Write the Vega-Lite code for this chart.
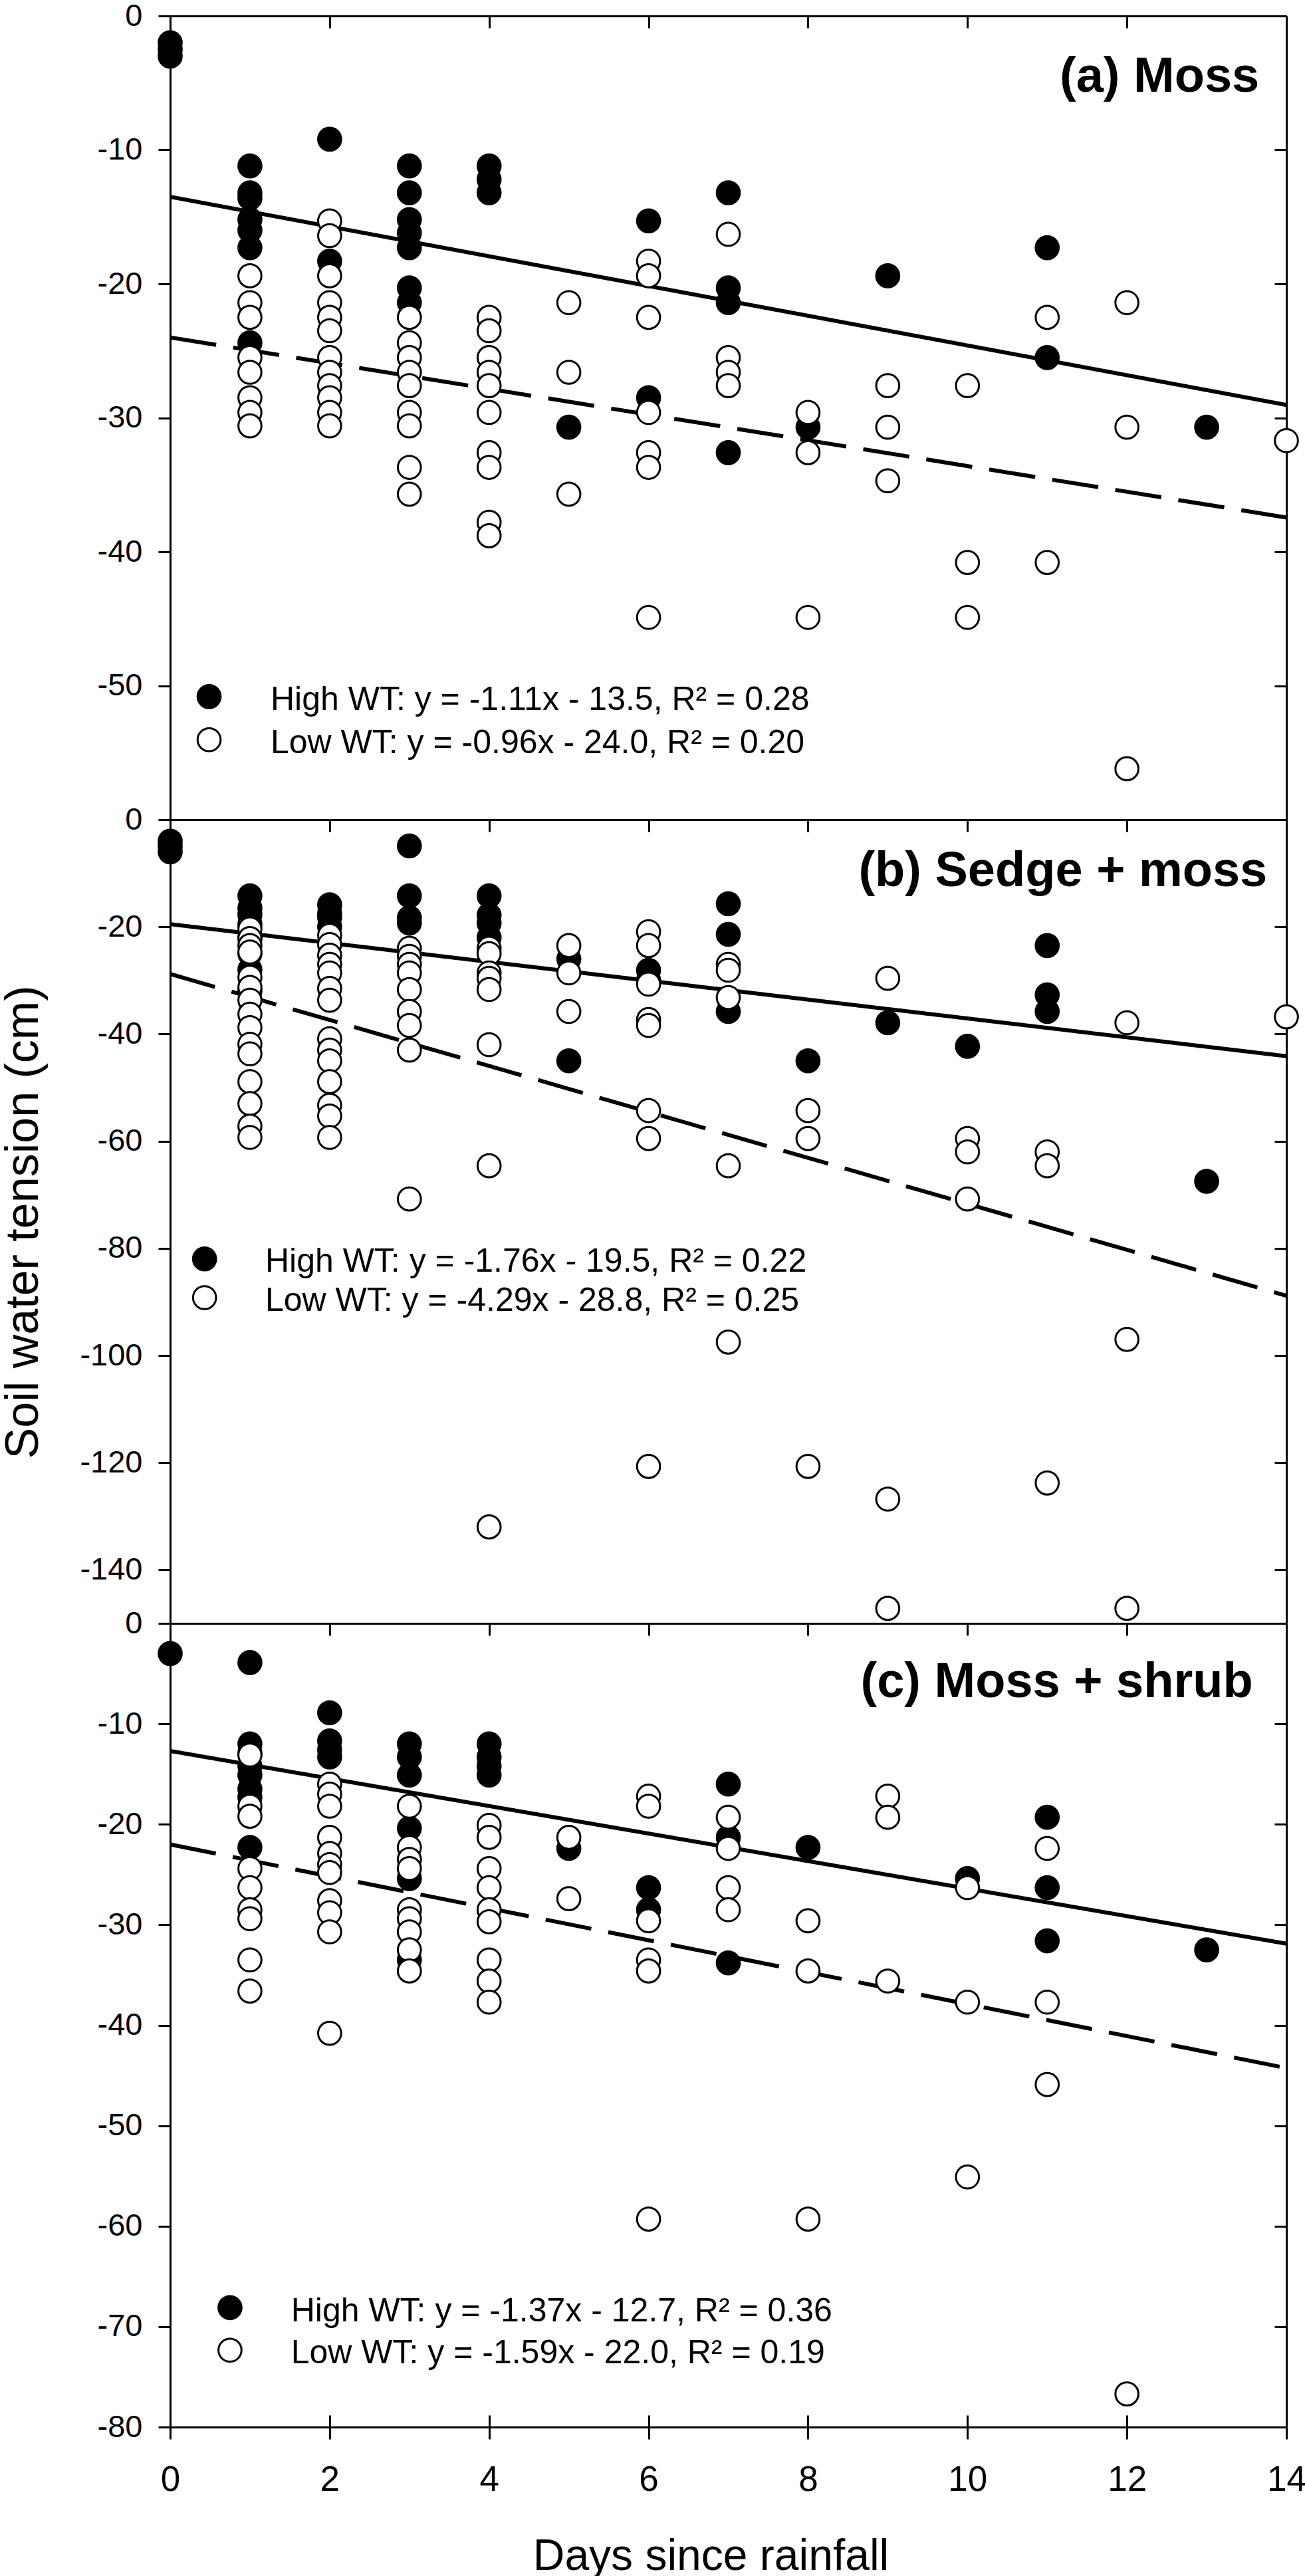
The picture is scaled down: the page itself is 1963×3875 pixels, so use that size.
{
  "$schema": "https://vega.github.io/schema/vega-lite/v6.json",
  "padding": {"left": 0, "top": 0, "right": 10, "bottom": 0},
  "background": "white",
  "config": {
    "view": {"stroke": null},
    "font": "Liberation Sans",
    "axis": {"domainColor": "black", "domainWidth": 3, "tickColor": "black", "tickWidth": 3, "labelColor": "black", "titleColor": "black", "grid": false, "labelFont": "Liberation Sans", "titleFont": "Liberation Sans", "titleFontWeight": "normal", "labelFlush": false, "labelOverlap": false},
    "text": {"font": "Liberation Sans", "color": "black"}
  },
  "datasets": {
    "points": [
      {"panel":"a","wt":"High WT","day":0,"swt":-2},{"panel":"a","wt":"High WT","day":0,"swt":-2.5},{"panel":"a","wt":"High WT","day":0,"swt":-3},
      {"panel":"a","wt":"High WT","day":1,"swt":-11.2},{"panel":"a","wt":"High WT","day":1,"swt":-13.2},{"panel":"a","wt":"High WT","day":1,"swt":-13.6},{"panel":"a","wt":"High WT","day":1,"swt":-15.2},{"panel":"a","wt":"High WT","day":1,"swt":-16},{"panel":"a","wt":"High WT","day":1,"swt":-17.3},{"panel":"a","wt":"High WT","day":1,"swt":-24.4},
      {"panel":"a","wt":"High WT","day":2,"swt":-9.2},{"panel":"a","wt":"High WT","day":2,"swt":-18.3},
      {"panel":"a","wt":"High WT","day":3,"swt":-11.2},{"panel":"a","wt":"High WT","day":3,"swt":-13.2},{"panel":"a","wt":"High WT","day":3,"swt":-15.2},{"panel":"a","wt":"High WT","day":3,"swt":-16.2},{"panel":"a","wt":"High WT","day":3,"swt":-17.3},{"panel":"a","wt":"High WT","day":3,"swt":-20.3},{"panel":"a","wt":"High WT","day":3,"swt":-21.4},
      {"panel":"a","wt":"High WT","day":4,"swt":-11.2},{"panel":"a","wt":"High WT","day":4,"swt":-12.2},{"panel":"a","wt":"High WT","day":4,"swt":-13.2},
      {"panel":"a","wt":"High WT","day":5,"swt":-30.7},
      {"panel":"a","wt":"High WT","day":6,"swt":-15.3},{"panel":"a","wt":"High WT","day":6,"swt":-28.5},
      {"panel":"a","wt":"High WT","day":7,"swt":-13.2},{"panel":"a","wt":"High WT","day":7,"swt":-20.3},{"panel":"a","wt":"High WT","day":7,"swt":-21.4},{"panel":"a","wt":"High WT","day":7,"swt":-32.6},
      {"panel":"a","wt":"High WT","day":8,"swt":-30.7},
      {"panel":"a","wt":"High WT","day":9,"swt":-19.4},
      {"panel":"a","wt":"High WT","day":11,"swt":-17.3},{"panel":"a","wt":"High WT","day":11,"swt":-25.5},
      {"panel":"a","wt":"High WT","day":13,"swt":-30.7},
      {"panel":"a","wt":"Low WT","day":1,"swt":-19.4},{"panel":"a","wt":"Low WT","day":1,"swt":-21.4},{"panel":"a","wt":"Low WT","day":1,"swt":-22.5},{"panel":"a","wt":"Low WT","day":1,"swt":-25.5},{"panel":"a","wt":"Low WT","day":1,"swt":-26.6},{"panel":"a","wt":"Low WT","day":1,"swt":-28.5},{"panel":"a","wt":"Low WT","day":1,"swt":-29.6},{"panel":"a","wt":"Low WT","day":1,"swt":-30.6},
      {"panel":"a","wt":"Low WT","day":2,"swt":-15.3},{"panel":"a","wt":"Low WT","day":2,"swt":-16.4},{"panel":"a","wt":"Low WT","day":2,"swt":-19.4},{"panel":"a","wt":"Low WT","day":2,"swt":-21.4},{"panel":"a","wt":"Low WT","day":2,"swt":-22.5},{"panel":"a","wt":"Low WT","day":2,"swt":-23.5},{"panel":"a","wt":"Low WT","day":2,"swt":-25.5},{"panel":"a","wt":"Low WT","day":2,"swt":-26.6},{"panel":"a","wt":"Low WT","day":2,"swt":-27.6},{"panel":"a","wt":"Low WT","day":2,"swt":-28.5},{"panel":"a","wt":"Low WT","day":2,"swt":-29.6},{"panel":"a","wt":"Low WT","day":2,"swt":-30.6},
      {"panel":"a","wt":"Low WT","day":3,"swt":-22.5},{"panel":"a","wt":"Low WT","day":3,"swt":-24.4},{"panel":"a","wt":"Low WT","day":3,"swt":-25.5},{"panel":"a","wt":"Low WT","day":3,"swt":-26.6},{"panel":"a","wt":"Low WT","day":3,"swt":-27.6},{"panel":"a","wt":"Low WT","day":3,"swt":-29.6},{"panel":"a","wt":"Low WT","day":3,"swt":-30.6},{"panel":"a","wt":"Low WT","day":3,"swt":-33.7},{"panel":"a","wt":"Low WT","day":3,"swt":-35.7},
      {"panel":"a","wt":"Low WT","day":4,"swt":-22.5},{"panel":"a","wt":"Low WT","day":4,"swt":-23.5},{"panel":"a","wt":"Low WT","day":4,"swt":-25.5},{"panel":"a","wt":"Low WT","day":4,"swt":-26.6},{"panel":"a","wt":"Low WT","day":4,"swt":-27.6},{"panel":"a","wt":"Low WT","day":4,"swt":-29.6},{"panel":"a","wt":"Low WT","day":4,"swt":-32.6},{"panel":"a","wt":"Low WT","day":4,"swt":-33.7},{"panel":"a","wt":"Low WT","day":4,"swt":-37.8},{"panel":"a","wt":"Low WT","day":4,"swt":-38.8},
      {"panel":"a","wt":"Low WT","day":5,"swt":-21.4},{"panel":"a","wt":"Low WT","day":5,"swt":-26.6},{"panel":"a","wt":"Low WT","day":5,"swt":-35.7},
      {"panel":"a","wt":"Low WT","day":6,"swt":-18.3},{"panel":"a","wt":"Low WT","day":6,"swt":-19.4},{"panel":"a","wt":"Low WT","day":6,"swt":-22.5},{"panel":"a","wt":"Low WT","day":6,"swt":-29.6},{"panel":"a","wt":"Low WT","day":6,"swt":-32.6},{"panel":"a","wt":"Low WT","day":6,"swt":-33.7},{"panel":"a","wt":"Low WT","day":6,"swt":-44.9},
      {"panel":"a","wt":"Low WT","day":7,"swt":-16.3},{"panel":"a","wt":"Low WT","day":7,"swt":-25.5},{"panel":"a","wt":"Low WT","day":7,"swt":-26.6},{"panel":"a","wt":"Low WT","day":7,"swt":-27.6},
      {"panel":"a","wt":"Low WT","day":8,"swt":-29.6},{"panel":"a","wt":"Low WT","day":8,"swt":-32.6},{"panel":"a","wt":"Low WT","day":8,"swt":-44.9},
      {"panel":"a","wt":"Low WT","day":9,"swt":-27.6},{"panel":"a","wt":"Low WT","day":9,"swt":-30.7},{"panel":"a","wt":"Low WT","day":9,"swt":-34.7},
      {"panel":"a","wt":"Low WT","day":10,"swt":-27.6},{"panel":"a","wt":"Low WT","day":10,"swt":-40.8},{"panel":"a","wt":"Low WT","day":10,"swt":-44.9},
      {"panel":"a","wt":"Low WT","day":11,"swt":-22.5},{"panel":"a","wt":"Low WT","day":11,"swt":-40.8},
      {"panel":"a","wt":"Low WT","day":12,"swt":-21.4},{"panel":"a","wt":"Low WT","day":12,"swt":-30.7},{"panel":"a","wt":"Low WT","day":12,"swt":-56.2},
      {"panel":"a","wt":"Low WT","day":14,"swt":-31.7},

      {"panel":"b","wt":"High WT","day":0,"swt":-4},{"panel":"b","wt":"High WT","day":0,"swt":-5},{"panel":"b","wt":"High WT","day":0,"swt":-6},
      {"panel":"b","wt":"High WT","day":1,"swt":-14.2},{"panel":"b","wt":"High WT","day":1,"swt":-16.5},{"panel":"b","wt":"High WT","day":1,"swt":-17.7},{"panel":"b","wt":"High WT","day":1,"swt":-19.5},{"panel":"b","wt":"High WT","day":1,"swt":-22},{"panel":"b","wt":"High WT","day":1,"swt":-25},{"panel":"b","wt":"High WT","day":1,"swt":-28},{"panel":"b","wt":"High WT","day":1,"swt":-32},
      {"panel":"b","wt":"High WT","day":2,"swt":-15.9},{"panel":"b","wt":"High WT","day":2,"swt":-17.5},{"panel":"b","wt":"High WT","day":2,"swt":-18.2},{"panel":"b","wt":"High WT","day":2,"swt":-20},
      {"panel":"b","wt":"High WT","day":3,"swt":-4.9},{"panel":"b","wt":"High WT","day":3,"swt":-14.2},{"panel":"b","wt":"High WT","day":3,"swt":-18.3},{"panel":"b","wt":"High WT","day":3,"swt":-19.3},
      {"panel":"b","wt":"High WT","day":4,"swt":-14.2},{"panel":"b","wt":"High WT","day":4,"swt":-17.8},{"panel":"b","wt":"High WT","day":4,"swt":-19.3},{"panel":"b","wt":"High WT","day":4,"swt":-22},
      {"panel":"b","wt":"High WT","day":5,"swt":-26},{"panel":"b","wt":"High WT","day":5,"swt":-45},
      {"panel":"b","wt":"High WT","day":6,"swt":-28.1},{"panel":"b","wt":"High WT","day":6,"swt":-30},
      {"panel":"b","wt":"High WT","day":7,"swt":-15.7},{"panel":"b","wt":"High WT","day":7,"swt":-21.4},{"panel":"b","wt":"High WT","day":7,"swt":-35.8},
      {"panel":"b","wt":"High WT","day":8,"swt":-45},
      {"panel":"b","wt":"High WT","day":9,"swt":-37.9},
      {"panel":"b","wt":"High WT","day":10,"swt":-42.3},
      {"panel":"b","wt":"High WT","day":11,"swt":-23.5},{"panel":"b","wt":"High WT","day":11,"swt":-32.7},{"panel":"b","wt":"High WT","day":11,"swt":-35.8},
      {"panel":"b","wt":"High WT","day":13,"swt":-67.5},
      {"panel":"b","wt":"Low WT","day":1,"swt":-20.4},{"panel":"b","wt":"Low WT","day":1,"swt":-22.2},{"panel":"b","wt":"Low WT","day":1,"swt":-23.5},{"panel":"b","wt":"Low WT","day":1,"swt":-24.7},{"panel":"b","wt":"Low WT","day":1,"swt":-29.4},{"panel":"b","wt":"Low WT","day":1,"swt":-31.3},{"panel":"b","wt":"Low WT","day":1,"swt":-33.7},{"panel":"b","wt":"Low WT","day":1,"swt":-36.3},{"panel":"b","wt":"Low WT","day":1,"swt":-38.8},{"panel":"b","wt":"Low WT","day":1,"swt":-41.9},{"panel":"b","wt":"Low WT","day":1,"swt":-43.7},{"panel":"b","wt":"Low WT","day":1,"swt":-48.9},{"panel":"b","wt":"Low WT","day":1,"swt":-53},{"panel":"b","wt":"Low WT","day":1,"swt":-57.2},{"panel":"b","wt":"Low WT","day":1,"swt":-59.3},
      {"panel":"b","wt":"Low WT","day":2,"swt":-21.6},{"panel":"b","wt":"Low WT","day":2,"swt":-23.3},{"panel":"b","wt":"Low WT","day":2,"swt":-25.3},{"panel":"b","wt":"Low WT","day":2,"swt":-27},{"panel":"b","wt":"Low WT","day":2,"swt":-28.6},{"panel":"b","wt":"Low WT","day":2,"swt":-31.5},{"panel":"b","wt":"Low WT","day":2,"swt":-33.7},{"panel":"b","wt":"Low WT","day":2,"swt":-40.9},{"panel":"b","wt":"Low WT","day":2,"swt":-43},{"panel":"b","wt":"Low WT","day":2,"swt":-45},{"panel":"b","wt":"Low WT","day":2,"swt":-48.9},{"panel":"b","wt":"Low WT","day":2,"swt":-53.3},{"panel":"b","wt":"Low WT","day":2,"swt":-55.3},{"panel":"b","wt":"Low WT","day":2,"swt":-59.3},
      {"panel":"b","wt":"Low WT","day":3,"swt":-24},{"panel":"b","wt":"Low WT","day":3,"swt":-25.5},{"panel":"b","wt":"Low WT","day":3,"swt":-27},{"panel":"b","wt":"Low WT","day":3,"swt":-28.6},{"panel":"b","wt":"Low WT","day":3,"swt":-31.7},{"panel":"b","wt":"Low WT","day":3,"swt":-35.8},{"panel":"b","wt":"Low WT","day":3,"swt":-38.4},{"panel":"b","wt":"Low WT","day":3,"swt":-43},{"panel":"b","wt":"Low WT","day":3,"swt":-70.8},
      {"panel":"b","wt":"Low WT","day":4,"swt":-24},{"panel":"b","wt":"Low WT","day":4,"swt":-25},{"panel":"b","wt":"Low WT","day":4,"swt":-28.6},{"panel":"b","wt":"Low WT","day":4,"swt":-29.6},{"panel":"b","wt":"Low WT","day":4,"swt":-31.7},{"panel":"b","wt":"Low WT","day":4,"swt":-42},{"panel":"b","wt":"Low WT","day":4,"swt":-64.6},{"panel":"b","wt":"Low WT","day":4,"swt":-132},
      {"panel":"b","wt":"Low WT","day":5,"swt":-23.5},{"panel":"b","wt":"Low WT","day":5,"swt":-28.6},{"panel":"b","wt":"Low WT","day":5,"swt":-35.8},
      {"panel":"b","wt":"Low WT","day":6,"swt":-20.9},{"panel":"b","wt":"Low WT","day":6,"swt":-23.5},{"panel":"b","wt":"Low WT","day":6,"swt":-30.7},{"panel":"b","wt":"Low WT","day":6,"swt":-37.3},{"panel":"b","wt":"Low WT","day":6,"swt":-38.4},{"panel":"b","wt":"Low WT","day":6,"swt":-54.3},{"panel":"b","wt":"Low WT","day":6,"swt":-59.5},{"panel":"b","wt":"Low WT","day":6,"swt":-120.7},
      {"panel":"b","wt":"Low WT","day":7,"swt":-27},{"panel":"b","wt":"Low WT","day":7,"swt":-28.1},{"panel":"b","wt":"Low WT","day":7,"swt":-33.2},{"panel":"b","wt":"Low WT","day":7,"swt":-64.6},{"panel":"b","wt":"Low WT","day":7,"swt":-97.5},
      {"panel":"b","wt":"Low WT","day":8,"swt":-54.3},{"panel":"b","wt":"Low WT","day":8,"swt":-59.5},{"panel":"b","wt":"Low WT","day":8,"swt":-120.7},
      {"panel":"b","wt":"Low WT","day":9,"swt":-29.6},{"panel":"b","wt":"Low WT","day":9,"swt":-126.8},{"panel":"b","wt":"Low WT","day":9,"swt":-147.2},
      {"panel":"b","wt":"Low WT","day":10,"swt":-59.5},{"panel":"b","wt":"Low WT","day":10,"swt":-62},{"panel":"b","wt":"Low WT","day":10,"swt":-70.8},
      {"panel":"b","wt":"Low WT","day":11,"swt":-62},{"panel":"b","wt":"Low WT","day":11,"swt":-64.6},{"panel":"b","wt":"Low WT","day":11,"swt":-123.8},
      {"panel":"b","wt":"Low WT","day":12,"swt":-37.9},{"panel":"b","wt":"Low WT","day":12,"swt":-97},{"panel":"b","wt":"Low WT","day":12,"swt":-147.2},
      {"panel":"b","wt":"Low WT","day":14,"swt":-36.8},

      {"panel":"c","wt":"High WT","day":0,"swt":-3},
      {"panel":"c","wt":"High WT","day":1,"swt":-3.9},{"panel":"c","wt":"High WT","day":1,"swt":-12},{"panel":"c","wt":"High WT","day":1,"swt":-12.9},{"panel":"c","wt":"High WT","day":1,"swt":-14.2},{"panel":"c","wt":"High WT","day":1,"swt":-15.1},{"panel":"c","wt":"High WT","day":1,"swt":-16.5},{"panel":"c","wt":"High WT","day":1,"swt":-17.3},{"panel":"c","wt":"High WT","day":1,"swt":-22.3},
      {"panel":"c","wt":"High WT","day":2,"swt":-8.9},{"panel":"c","wt":"High WT","day":2,"swt":-11.7},{"panel":"c","wt":"High WT","day":2,"swt":-12.6},{"panel":"c","wt":"High WT","day":2,"swt":-13.3},
      {"panel":"c","wt":"High WT","day":3,"swt":-12},{"panel":"c","wt":"High WT","day":3,"swt":-13.3},{"panel":"c","wt":"High WT","day":3,"swt":-15.1},{"panel":"c","wt":"High WT","day":3,"swt":-20.4},{"panel":"c","wt":"High WT","day":3,"swt":-25.4},{"panel":"c","wt":"High WT","day":3,"swt":-33.5},
      {"panel":"c","wt":"High WT","day":4,"swt":-12},{"panel":"c","wt":"High WT","day":4,"swt":-13.3},{"panel":"c","wt":"High WT","day":4,"swt":-14.2},{"panel":"c","wt":"High WT","day":4,"swt":-15.1},
      {"panel":"c","wt":"High WT","day":5,"swt":-22.4},
      {"panel":"c","wt":"High WT","day":6,"swt":-26.3},{"panel":"c","wt":"High WT","day":6,"swt":-28.5},
      {"panel":"c","wt":"High WT","day":7,"swt":-16},{"panel":"c","wt":"High WT","day":7,"swt":-21.3},{"panel":"c","wt":"High WT","day":7,"swt":-33.8},
      {"panel":"c","wt":"High WT","day":8,"swt":-22.3},
      {"panel":"c","wt":"High WT","day":10,"swt":-25.4},
      {"panel":"c","wt":"High WT","day":11,"swt":-19.3},{"panel":"c","wt":"High WT","day":11,"swt":-26.3},{"panel":"c","wt":"High WT","day":11,"swt":-31.6},
      {"panel":"c","wt":"High WT","day":13,"swt":-32.5},
      {"panel":"c","wt":"Low WT","day":1,"swt":-13.1},{"panel":"c","wt":"Low WT","day":1,"swt":-18.2},{"panel":"c","wt":"Low WT","day":1,"swt":-19.2},{"panel":"c","wt":"Low WT","day":1,"swt":-24.4},{"panel":"c","wt":"Low WT","day":1,"swt":-26.3},{"panel":"c","wt":"Low WT","day":1,"swt":-28.5},{"panel":"c","wt":"Low WT","day":1,"swt":-29.4},{"panel":"c","wt":"Low WT","day":1,"swt":-33.5},{"panel":"c","wt":"Low WT","day":1,"swt":-36.6},
      {"panel":"c","wt":"Low WT","day":2,"swt":-16},{"panel":"c","wt":"Low WT","day":2,"swt":-17},{"panel":"c","wt":"Low WT","day":2,"swt":-18.2},{"panel":"c","wt":"Low WT","day":2,"swt":-21.3},{"panel":"c","wt":"Low WT","day":2,"swt":-22.9},{"panel":"c","wt":"Low WT","day":2,"swt":-24},{"panel":"c","wt":"Low WT","day":2,"swt":-24.8},{"panel":"c","wt":"Low WT","day":2,"swt":-27.6},{"panel":"c","wt":"Low WT","day":2,"swt":-28.8},{"panel":"c","wt":"Low WT","day":2,"swt":-30.7},{"panel":"c","wt":"Low WT","day":2,"swt":-40.8},
      {"panel":"c","wt":"Low WT","day":3,"swt":-18.2},{"panel":"c","wt":"Low WT","day":3,"swt":-22.3},{"panel":"c","wt":"Low WT","day":3,"swt":-23.5},{"panel":"c","wt":"Low WT","day":3,"swt":-24.4},{"panel":"c","wt":"Low WT","day":3,"swt":-28.5},{"panel":"c","wt":"Low WT","day":3,"swt":-29.4},{"panel":"c","wt":"Low WT","day":3,"swt":-30.7},{"panel":"c","wt":"Low WT","day":3,"swt":-32.5},{"panel":"c","wt":"Low WT","day":3,"swt":-34.6},
      {"panel":"c","wt":"Low WT","day":4,"swt":-20.1},{"panel":"c","wt":"Low WT","day":4,"swt":-21.3},{"panel":"c","wt":"Low WT","day":4,"swt":-24.4},{"panel":"c","wt":"Low WT","day":4,"swt":-26.3},{"panel":"c","wt":"Low WT","day":4,"swt":-28.5},{"panel":"c","wt":"Low WT","day":4,"swt":-29.7},{"panel":"c","wt":"Low WT","day":4,"swt":-33.5},{"panel":"c","wt":"Low WT","day":4,"swt":-35.6},{"panel":"c","wt":"Low WT","day":4,"swt":-37.7},
      {"panel":"c","wt":"Low WT","day":5,"swt":-21.3},{"panel":"c","wt":"Low WT","day":5,"swt":-27.4},
      {"panel":"c","wt":"Low WT","day":6,"swt":-17.2},{"panel":"c","wt":"Low WT","day":6,"swt":-18.2},{"panel":"c","wt":"Low WT","day":6,"swt":-29.6},{"panel":"c","wt":"Low WT","day":6,"swt":-33.5},{"panel":"c","wt":"Low WT","day":6,"swt":-34.6},{"panel":"c","wt":"Low WT","day":6,"swt":-59.3},
      {"panel":"c","wt":"Low WT","day":7,"swt":-19.3},{"panel":"c","wt":"Low WT","day":7,"swt":-22.4},{"panel":"c","wt":"Low WT","day":7,"swt":-26.3},{"panel":"c","wt":"Low WT","day":7,"swt":-28.5},
      {"panel":"c","wt":"Low WT","day":8,"swt":-29.6},{"panel":"c","wt":"Low WT","day":8,"swt":-34.6},{"panel":"c","wt":"Low WT","day":8,"swt":-59.3},
      {"panel":"c","wt":"Low WT","day":9,"swt":-17.2},{"panel":"c","wt":"Low WT","day":9,"swt":-19.3},{"panel":"c","wt":"Low WT","day":9,"swt":-35.6},
      {"panel":"c","wt":"Low WT","day":10,"swt":-26.3},{"panel":"c","wt":"Low WT","day":10,"swt":-37.7},{"panel":"c","wt":"Low WT","day":10,"swt":-55.1},
      {"panel":"c","wt":"Low WT","day":11,"swt":-22.4},{"panel":"c","wt":"Low WT","day":11,"swt":-37.7},{"panel":"c","wt":"Low WT","day":11,"swt":-45.9},
      {"panel":"c","wt":"Low WT","day":12,"swt":-76.7}
    ],
    "lines": [
      {"panel":"a","wt":"High WT","day":0,"swt":-13.5},{"panel":"a","wt":"High WT","day":14,"swt":-29.04},
      {"panel":"a","wt":"Low WT","day":0,"swt":-24.0},{"panel":"a","wt":"Low WT","day":14,"swt":-37.44},
      {"panel":"b","wt":"High WT","day":0,"swt":-19.5},{"panel":"b","wt":"High WT","day":14,"swt":-44.14},
      {"panel":"b","wt":"Low WT","day":0,"swt":-28.8},{"panel":"b","wt":"Low WT","day":14,"swt":-88.86},
      {"panel":"c","wt":"High WT","day":0,"swt":-12.7},{"panel":"c","wt":"High WT","day":14,"swt":-31.88},
      {"panel":"c","wt":"Low WT","day":0,"swt":-22.0},{"panel":"c","wt":"Low WT","day":14,"swt":-44.26}
    ]
  },
  "bounds": "flush",
  "spacing": 0,
  "resolve": {"scale": {"x": "independent", "y": "independent", "fill": "independent", "strokeDash": "independent"}},
  "vconcat": [
    {
      "width": 1679, "height": 1209,
      "resolve": {"axis": {"x": "independent", "y": "independent"}},
      "layer": [
        {
          "data": {"name": "lines"},
          "transform": [{"filter": "datum.panel == 'a'"}],
          "mark": {"type": "line", "color": "black", "strokeWidth": 6, "strokeCap": "butt"},
          "encoding": {
            "x": {"field": "day", "type": "quantitative", "scale": {"domain": [0, 14], "nice": false, "zero": false}, "axis": {"orient": "top", "labels": false, "tickSize": -18, "values": [0,2,4,6,8,10,12,14], "title": null}},
            "y": {"field": "swt", "type": "quantitative", "scale": {"domain": [-60, 0], "nice": false}, "axis": {"orient": "right", "labels": false, "tickSize": -18, "values": [0,-10,-20,-30,-40,-50,-60], "title": null}},
            "strokeDash": {"field": "wt", "type": "nominal", "scale": {"domain": ["High WT", "Low WT"], "range": [[1, 0], [70, 26]]}, "legend": null}
          }
        },
        {
          "data": {"name": "points"},
          "transform": [{"filter": "datum.panel == 'a'"}],
          "mark": {"type": "point", "shape": "circle", "filled": true, "size": 1200, "stroke": "black", "strokeWidth": 3, "opacity": 1},
          "encoding": {
            "x": {"field": "day", "type": "quantitative", "scale": {"domain": [0, 14], "nice": false, "zero": false}, "axis": {"orient": "bottom", "labels": false, "ticks": false, "title": null}},
            "y": {"field": "swt", "type": "quantitative", "scale": {"domain": [-60, 0], "nice": false}, "axis": {"orient": "left", "values": [0,-10,-20,-30,-40,-50], "tickSize": 18, "labelFontSize": 47, "labelPadding": 24, "labelExpr": "datum.value + ''", "title": null}},
            "fill": {"field": "wt", "type": "nominal", "scale": {"domain": ["High WT", "Low WT"], "range": ["black", "white"]}, "legend": null}
          }
        },
        {
          "data": {"values": [{"wt": "High WT"}]},
          "mark": {"type": "point", "shape": "circle", "filled": true, "size": 1200, "stroke": "black", "strokeWidth": 3, "opacity": 1},
          "encoding": {
            "x": {"datum": 0.488, "type": "quantitative", "axis": null},
            "y": {"datum": -50.81, "type": "quantitative", "axis": null},
            "fill": {"field": "wt", "type": "nominal", "legend": null}
          }
        },
        {
          "data": {"values": [{"wt": "Low WT"}]},
          "mark": {"type": "point", "shape": "circle", "filled": true, "size": 1200, "stroke": "black", "strokeWidth": 3, "opacity": 1},
          "encoding": {
            "x": {"datum": 0.488, "type": "quantitative", "axis": null},
            "y": {"datum": -54.03, "type": "quantitative", "axis": null},
            "fill": {"field": "wt", "type": "nominal", "legend": null}
          }
        },
        {
          "data": {"values": [{"label": "High WT: y = -1.11x - 13.5, R² = 0.28"}]},
          "mark": {"type": "text", "align": "left", "baseline": "alphabetic", "fontSize": 50},
          "encoding": {
            "x": {"datum": 1.259, "type": "quantitative", "axis": null},
            "y": {"datum": -51.8, "type": "quantitative", "axis": null},
            "text": {"field": "label"}
          }
        },
        {
          "data": {"values": [{"label": "Low WT: y = -0.96x - 24.0, R² = 0.20"}]},
          "mark": {"type": "text", "align": "left", "baseline": "alphabetic", "fontSize": 50},
          "encoding": {
            "x": {"datum": 1.259, "type": "quantitative", "axis": null},
            "y": {"datum": -55.03, "type": "quantitative", "axis": null},
            "text": {"field": "label"}
          }
        },
        {
          "data": {"values": [{"label": "(a) Moss"}]},
          "mark": {"type": "text", "align": "right", "baseline": "alphabetic", "fontSize": 74, "fontWeight": "bold"},
          "encoding": {
            "x": {"datum": 13.66, "type": "quantitative", "axis": null},
            "y": {"datum": -5.66, "type": "quantitative", "axis": null},
            "text": {"field": "label"}
          }
        }
      ]
    },
    {
      "width": 1679, "height": 1209,
      "resolve": {"axis": {"x": "independent", "y": "independent"}},
      "layer": [
        {
          "data": {"name": "lines"},
          "transform": [{"filter": "datum.panel == 'b'"}],
          "mark": {"type": "line", "color": "black", "strokeWidth": 6, "strokeCap": "butt"},
          "encoding": {
            "x": {"field": "day", "type": "quantitative", "scale": {"domain": [0, 14], "nice": false, "zero": false}, "axis": {"orient": "top", "labels": false, "tickSize": -18, "values": [0,2,4,6,8,10,12,14], "title": null}},
            "y": {"field": "swt", "type": "quantitative", "scale": {"domain": [-150, 0], "nice": false}, "axis": {"orient": "right", "labels": false, "tickSize": -18, "values": [0,-20,-40,-60,-80,-100,-120,-140], "title": null}},
            "strokeDash": {"field": "wt", "type": "nominal", "scale": {"domain": ["High WT", "Low WT"], "range": [[1, 0], [70, 26]]}, "legend": null}
          }
        },
        {
          "data": {"name": "points"},
          "transform": [{"filter": "datum.panel == 'b'"}],
          "mark": {"type": "point", "shape": "circle", "filled": true, "size": 1200, "stroke": "black", "strokeWidth": 3, "opacity": 1},
          "encoding": {
            "x": {"field": "day", "type": "quantitative", "scale": {"domain": [0, 14], "nice": false, "zero": false}, "axis": {"orient": "bottom", "labels": false, "ticks": false, "title": null}},
            "y": {"field": "swt", "type": "quantitative", "scale": {"domain": [-150, 0], "nice": false}, "axis": {"orient": "left", "values": [0,-20,-40,-60,-80,-100,-120,-140], "tickSize": 18, "labelFontSize": 47, "labelPadding": 24, "labelExpr": "datum.value + ''", "title": "Soil water tension (cm)", "titleFontSize": 70, "titleX": -200, "titleY": 605, "titleAngle": 270, "titleBaseline": "alphabetic", "titleAlign": "center"}},
            "fill": {"field": "wt", "type": "nominal", "scale": {"domain": ["High WT", "Low WT"], "range": ["black", "white"]}, "legend": null}
          }
        },
        {
          "data": {"values": [{"wt": "High WT"}]},
          "mark": {"type": "point", "shape": "circle", "filled": true, "size": 1200, "stroke": "black", "strokeWidth": 3, "opacity": 1},
          "encoding": {
            "x": {"datum": 0.431, "type": "quantitative", "axis": null},
            "y": {"datum": -81.98, "type": "quantitative", "axis": null},
            "fill": {"field": "wt", "type": "nominal", "legend": null}
          }
        },
        {
          "data": {"values": [{"wt": "Low WT"}]},
          "mark": {"type": "point", "shape": "circle", "filled": true, "size": 1200, "stroke": "black", "strokeWidth": 3, "opacity": 1},
          "encoding": {
            "x": {"datum": 0.431, "type": "quantitative", "axis": null},
            "y": {"datum": -89.21, "type": "quantitative", "axis": null},
            "fill": {"field": "wt", "type": "nominal", "legend": null}
          }
        },
        {
          "data": {"values": [{"label": "High WT: y = -1.76x - 19.5, R² = 0.22"}]},
          "mark": {"type": "text", "align": "left", "baseline": "alphabetic", "fontSize": 50},
          "encoding": {
            "x": {"datum": 1.192, "type": "quantitative", "axis": null},
            "y": {"datum": -84.4, "type": "quantitative", "axis": null},
            "text": {"field": "label"}
          }
        },
        {
          "data": {"values": [{"label": "Low WT: y = -4.29x - 28.8, R² = 0.25"}]},
          "mark": {"type": "text", "align": "left", "baseline": "alphabetic", "fontSize": 50},
          "encoding": {
            "x": {"datum": 1.192, "type": "quantitative", "axis": null},
            "y": {"datum": -91.63, "type": "quantitative", "axis": null},
            "text": {"field": "label"}
          }
        },
        {
          "data": {"values": [{"label": "(b) Sedge + moss"}]},
          "mark": {"type": "text", "align": "right", "baseline": "alphabetic", "fontSize": 74, "fontWeight": "bold"},
          "encoding": {
            "x": {"datum": 13.76, "type": "quantitative", "axis": null},
            "y": {"datum": -12.4, "type": "quantitative", "axis": null},
            "text": {"field": "label"}
          }
        }
      ]
    },
    {
      "width": 1679, "height": 1209,
      "resolve": {"axis": {"x": "independent", "y": "independent"}},
      "layer": [
        {
          "data": {"name": "lines"},
          "transform": [{"filter": "datum.panel == 'c'"}],
          "mark": {"type": "line", "color": "black", "strokeWidth": 6, "strokeCap": "butt"},
          "encoding": {
            "x": {"field": "day", "type": "quantitative", "scale": {"domain": [0, 14], "nice": false, "zero": false}, "axis": {"orient": "top", "labels": false, "tickSize": -18, "values": [0,2,4,6,8,10,12,14], "title": null}},
            "y": {"field": "swt", "type": "quantitative", "scale": {"domain": [-80, 0], "nice": false}, "axis": {"orient": "right", "labels": false, "tickSize": -18, "values": [0,-10,-20,-30,-40,-50,-60,-70,-80], "title": null}},
            "strokeDash": {"field": "wt", "type": "nominal", "scale": {"domain": ["High WT", "Low WT"], "range": [[1, 0], [70, 26]]}, "legend": null}
          }
        },
        {
          "data": {"name": "points"},
          "transform": [{"filter": "datum.panel == 'c'"}],
          "mark": {"type": "point", "shape": "circle", "filled": true, "size": 1200, "stroke": "black", "strokeWidth": 3, "opacity": 1},
          "encoding": {
            "x": {"field": "day", "type": "quantitative", "scale": {"domain": [0, 14], "nice": false, "zero": false}, "axis": {"orient": "bottom", "values": [0,2,4,6,8,10,12,14], "tickSize": 18, "labelFontSize": 53, "labelPadding": 35, "labelExpr": "datum.value + ''", "title": "Days since rainfall", "titleFontSize": 66, "titleX": 813, "titleY": 214, "titleBaseline": "alphabetic", "titleAlign": "center"}},
            "y": {"field": "swt", "type": "quantitative", "scale": {"domain": [-80, 0], "nice": false}, "axis": {"orient": "left", "values": [0,-10,-20,-30,-40,-50,-60,-70,-80], "tickSize": 18, "labelFontSize": 47, "labelPadding": 24, "labelExpr": "datum.value + ''", "title": null}},
            "fill": {"field": "wt", "type": "nominal", "scale": {"domain": ["High WT", "Low WT"], "range": ["black", "white"]}, "legend": null}
          }
        },
        {
          "data": {"values": [{"wt": "High WT"}]},
          "mark": {"type": "point", "shape": "circle", "filled": true, "size": 1200, "stroke": "black", "strokeWidth": 3, "opacity": 1},
          "encoding": {
            "x": {"datum": 0.75, "type": "quantitative", "axis": null},
            "y": {"datum": -68.11, "type": "quantitative", "axis": null},
            "fill": {"field": "wt", "type": "nominal", "legend": null}
          }
        },
        {
          "data": {"values": [{"wt": "Low WT"}]},
          "mark": {"type": "point", "shape": "circle", "filled": true, "size": 1200, "stroke": "black", "strokeWidth": 3, "opacity": 1},
          "encoding": {
            "x": {"datum": 0.75, "type": "quantitative", "axis": null},
            "y": {"datum": -72.34, "type": "quantitative", "axis": null},
            "fill": {"field": "wt", "type": "nominal", "legend": null}
          }
        },
        {
          "data": {"values": [{"label": "High WT: y = -1.37x - 12.7, R² = 0.36"}]},
          "mark": {"type": "text", "align": "left", "baseline": "alphabetic", "fontSize": 50},
          "encoding": {
            "x": {"datum": 1.515, "type": "quantitative", "axis": null},
            "y": {"datum": -69.45, "type": "quantitative", "axis": null},
            "text": {"field": "label"}
          }
        },
        {
          "data": {"values": [{"label": "Low WT: y = -1.59x - 22.0, R² = 0.19"}]},
          "mark": {"type": "text", "align": "left", "baseline": "alphabetic", "fontSize": 50},
          "encoding": {
            "x": {"datum": 1.515, "type": "quantitative", "axis": null},
            "y": {"datum": -73.68, "type": "quantitative", "axis": null},
            "text": {"field": "label"}
          }
        },
        {
          "data": {"values": [{"label": "(c) Moss + shrub"}]},
          "mark": {"type": "text", "align": "right", "baseline": "alphabetic", "fontSize": 74, "fontWeight": "bold"},
          "encoding": {
            "x": {"datum": 13.58, "type": "quantitative", "axis": {"orient": "bottom", "labels": false, "domain": false, "tickSize": -18, "values": [0,2,4,6,8,10,12,14], "title": null}},
            "y": {"datum": -7.35, "type": "quantitative", "axis": null},
            "text": {"field": "label"}
          }
        }
      ]
    }
  ]
}
